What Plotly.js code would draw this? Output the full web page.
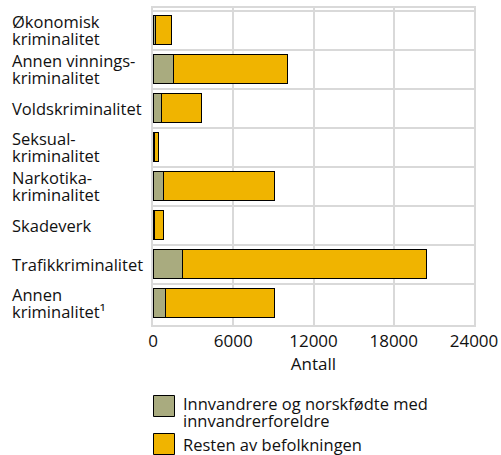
<!DOCTYPE html>
<html><head><meta charset="utf-8">
<script src="https://cdn.plot.ly/plotly-3.0.1.min.js"></script>
<style>html,body{margin:0;padding:0;background:#fff}#chart{width:501px;height:455px}</style>
</head><body><div id="chart"></div>
<script>
const categories = ["Økonomisk kriminalitet","Annen vinnings-kriminalitet","Voldskriminalitet","Seksual-kriminalitet","Narkotika-kriminalitet","Skadeverk","Trafikkriminalitet","Annen kriminalitet¹"];
const categoryLabels = [["Økonomisk","kriminalitet"],["Annen vinnings-","kriminalitet"],["Voldskriminalitet"],["Seksual-","kriminalitet"],["Narkotika-","kriminalitet"],["Skadeverk"],["Trafikkriminalitet"],["Annen","kriminalitet¹"]];
const innvandrere = [150, 1500, 640, 110, 810, 110, 2190, 910];
const resten = [1250, 8550, 2970, 330, 8250, 650, 18270, 8180];
const seriesNames = ["Innvandrere og norskfødte med innvandrerforeldre","Resten av befolkningen"];
const legendLines = [["Innvandrere og norskfødte med","innvandrerforeldre"],["Resten av befolkningen"]];
const xTicks = [0, 6000, 12000, 18000, 24000];
const colors = ["#a9ab7f", "#f0b400"];

const font = "Open Sans, sans-serif";
const textColor = "#111";
const traces = [innvandrere, resten].map((vals, i) => ({
  type: "bar", orientation: "h", name: seriesNames[i],
  y: categories, x: vals,
  marker: {color: colors[i], line: {color: "#000", width: 1}},
  width: 0.72, hoverinfo: "x+name"
}));

const annotations = [];
const lineH = 17;
categories.forEach((c, k) => {
  const lines = categoryLabels[k];
  lines.forEach((t, i) => {
    annotations.push({xref: "paper", yref: "y", x: -0.4455, y: c, xanchor: "left", yanchor: "middle",
      text: t, showarrow: false, font: {family: font, size: 16.5, color: textColor},
      yshift: ((lines.length - 1) / 2 - i) * lineH});
  });
});
// custom legend
const shapes = [];
const legTop = [395.5, 433.5];
const plotL = 153, plotW = 321, plotT = 8, plotH = 317;
function py(p){ return 1 - (p - plotT) / plotH; }
function px(p){ return (p - plotL) / plotW; }
legendLines.forEach((lines, k) => {
  shapes.push({type: "rect", xref: "paper", yref: "paper",
    x0: px(153.5), x1: px(174.5), y0: py(legTop[k]), y1: py(legTop[k] + 21),
    fillcolor: colors[k], line: {color: "#000", width: 1}});
  const c = legTop[k] + (lines.length === 1 ? 11 : 7.5);
  lines.forEach((t, i) => {
    annotations.push({xref: "paper", yref: "paper", x: px(181), y: py(c + i * lineH), xanchor: "left", yanchor: "middle",
      text: t, showarrow: false, font: {family: font, size: 16.5, color: textColor}});
  });
});

const layout = {
  width: 501, height: 455,
  margin: {l: 153, r: 27, t: 8, b: 130},
  paper_bgcolor: "#fff", plot_bgcolor: "#fff",
  barmode: "stack", showlegend: false,
  font: {family: font, size: 17, color: textColor},
  xaxis: {range: [0, 24000], tickvals: xTicks, ticktext: xTicks.map(String),
    showgrid: true, gridcolor: "#d9d9d9", gridwidth: 2, zeroline: false,
    showline: true, linecolor: "#d9d9d9", linewidth: 2, mirror: true,
    ticks: "", tickfont: {size: 17},
    title: {text: "Antall", font: {size: 17}, standoff: 6}},
  yaxis: {autorange: "reversed", type: "category", tickson: "boundaries",
    showgrid: true, gridcolor: "#d9d9d9", gridwidth: 2,
    showline: true, linecolor: "#d9d9d9", linewidth: 2, mirror: true,
    showticklabels: false, ticks: ""},
  annotations: annotations, shapes: shapes
};
Plotly.newPlot("chart", traces, layout, {displayModeBar: false, staticPlot: true});
</script></body></html>
